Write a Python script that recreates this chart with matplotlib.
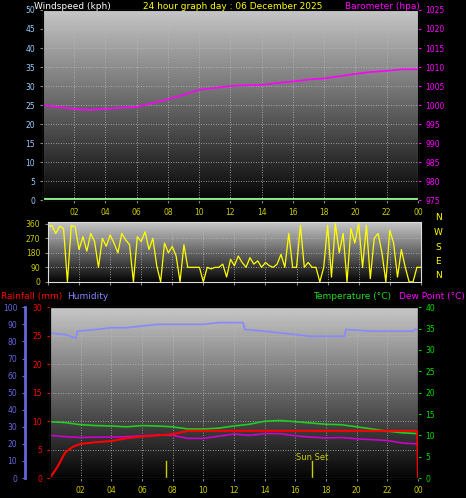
import matplotlib
matplotlib.use("Agg")
import matplotlib.pyplot as plt
import numpy as np

# ---- data ----
hours = list(range(25))
pressure = [1000, 999.5, 999, 998.7, 999, 999.3, 999.5, 1000.5, 1001.5, 1002.7, 1004, 1004.5,
            1005, 1005.2, 1005.3, 1005.8, 1006.2, 1006.7, 1007, 1007.6, 1008.2, 1008.7, 1009, 1009.4, 1009.4]

wind_t = [i * 0.25 for i in range(97)]
wind_dir = [340, 350, 300, 345, 330, 0, 350, 340, 200, 280, 190, 300, 250, 90, 270, 220,
            290, 240, 180, 300, 260, 230, 0, 280, 250, 310, 200, 270, 100, 0, 240, 180,
            220, 160, 0, 230, 90, 90, 90, 90, 0, 90, 80, 90, 90, 110, 30, 140, 100, 160,
            120, 90, 150, 110, 130, 90, 120, 100, 90, 110, 170, 90, 300, 90, 90, 350, 90, 120,
            90, 90, 0, 90, 350, 30, 360, 180, 300, 0, 330, 240, 360, 90, 350, 20, 270, 300,
            180, 0, 320, 240, 30, 200, 90, 0, 0, 90, 90]

hum_t = [0, 1, 1.7, 1.8, 3, 4, 5, 6, 7, 8, 9, 10, 11, 12, 12.6, 12.7, 14, 15, 16, 17, 18, 19, 19.2, 19.3, 21, 22, 23, 23.7, 23.8, 24]
humidity = [85, 84, 82, 86, 87, 88, 88, 89, 90, 90, 90, 90, 91, 91, 91, 87, 86, 85, 84, 83, 83, 83, 83, 87, 86, 86, 86, 86, 87, 87]

temperature = [13.2, 13, 12.5, 12.3, 12.2, 12, 12.3, 12.2, 12, 11.5, 11.5, 11.7, 12.2, 12.6, 13.3,
               13.5, 13.2, 12.9, 12.6, 12.5, 12, 11.5, 11, 10.6, 10.4]
dewpoint = [10, 9.7, 9.5, 9.6, 9.6, 9.7, 9.9, 10.1, 10, 9.3, 9.3, 9.8, 10.3, 10, 10.4,
            10.4, 9.9, 9.6, 9.4, 9.5, 9.2, 9, 8.8, 8.2, 8]

rain_t = [0, 0.5, 1, 1.5, 2, 3, 4, 5, 6, 7, 8, 9, 12, 23.95, 24]
rainfall = [0, 2, 4.5, 5.5, 6, 6.3, 6.5, 7, 7.3, 7.5, 7.7, 8.3, 8.3, 8.3, 0]

sun_times = [7.6, 17.1]
hour_ticks = list(range(2, 25, 2))
hour_labels = ["%02d" % (h % 24) for h in hour_ticks]

YEL = "#cccc00"
fig = plt.figure(figsize=(4.66, 4.98), dpi=100, facecolor="black")

grad = np.linspace(0.78, 0.02, 256).reshape(-1, 1)


def panel(rect):
    ax = fig.add_axes(rect)
    ax.set_facecolor("black")
    ax.imshow(grad, cmap="gray", vmin=0, vmax=1, aspect="auto",
              extent=[0, 1, 0, 1], transform=ax.transAxes, zorder=0)
    ax.set_xlim(0, 24)
    ax.set_xticks(range(0, 25, 2))
    ax.grid(True, color="#bbbbbb", ls=(0, (1, 2)), lw=0.6)
    for s in ax.spines.values():
        s.set_color("#dddddd")
    ax.tick_params(labelsize=5.5, length=2, colors="#888888")
    return ax


# --- top: wind speed / barometer ---
ax1 = panel([0.092, 0.598, 0.805, 0.382])
ax1.set_ylim(0, 50)
ax1.set_yticks(range(0, 51, 5))
ax1.tick_params(axis="y", labelcolor="#99ccff")
ax1.set_xticks(hour_ticks)
ax1.set_xticklabels(hour_labels, color=YEL)
ax1.axhline(0.3, color="#88ee88", lw=1.5)
ax1b = ax1.twinx()
ax1b.set_ylim(975, 1025)
ax1b.set_yticks(range(975, 1026, 5))
ax1b.tick_params(labelsize=5.5, length=2, colors="magenta")
ax1b.plot(hours, pressure, color="magenta", lw=1.2)
fig.text(0.072, 0.996, "Windspeed (kph)", color="white", fontsize=6.5, va="top")
fig.text(0.5, 0.996, "24 hour graph day : 06 December 2025", color="yellow", fontsize=6.5, va="top", ha="center")
fig.text(0.9, 0.996, "Barometer (hpa)", color="magenta", fontsize=6.5, va="top", ha="right")

# --- middle: wind direction ---
ax2 = panel([0.103, 0.434, 0.800, 0.120])
ax2.set_ylim(0, 370)
ax2.set_yticks([0, 90, 180, 270, 360])
ax2.tick_params(axis="y", labelcolor=YEL)
ax2.set_xticklabels([])
ax2.plot(wind_t, wind_dir, color="yellow", lw=0.9)
for i, c in enumerate("NWSEN"):
    fig.text(0.94, 1 - (218 + i * 14.5) / 498, c, color="yellow", fontsize=6.5, va="center", ha="center")

# --- bottom: rain / humidity / temperature ---
ax3 = panel([0.107, 0.040, 0.790, 0.343])
ax3.set_ylim(0, 30)
ax3.set_yticks(range(0, 31, 5))
ax3.tick_params(axis="y", labelcolor="red", colors="red")
ax3.set_xticks(hour_ticks)
ax3.set_xticklabels(hour_labels, color=YEL)
for st in sun_times:
    ax3.plot([st, st], [0, 3], color="#cccc00", lw=1)
ax3.text(sun_times[1], 3.2, "Sun Set", color="#cccc00", fontsize=6, ha="center")

axh = ax3.twinx()
axh.spines["left"].set_position(("outward", 18))
axh.spines["left"].set_color("#6666dd")
axh.spines["left"].set_linewidth(2)
axh.yaxis.set_label_position("left")
axh.yaxis.tick_left()
axh.set_ylim(0, 100)
axh.set_yticks(range(0, 101, 10))
axh.tick_params(labelsize=5.5, length=2, colors="#6666dd")
axh.plot(hum_t, humidity, color="#8888ff", lw=1.2)

axt = ax3.twinx()
axt.set_ylim(0, 40)
axt.set_yticks(range(0, 41, 5))
axt.tick_params(labelsize=5.5, length=2, colors="#00dd00")
axt.plot(hours, temperature, color="#22cc22", lw=1.2)
axt.plot(hours, dewpoint, color="#cc00cc", lw=1.2)

# rain drawn on top of everything, in the rain scale
axr = ax3.twinx()
axr.set_ylim(0, 30)
axr.set_yticks([])
axr.plot(rain_t, rainfall, color="red", lw=1.5)

fig.text(0.002, 0.405, "Rainfall (mm)", color="red", fontsize=6.5, va="center")
fig.text(0.145, 0.405, "Humidity", color="#8888ff", fontsize=6.5, va="center")
fig.text(0.672, 0.405, "Temperature (°C)", color="#22dd22", fontsize=6.5, va="center")
fig.text(0.998, 0.405, "Dew Point (°C)", color="magenta", fontsize=6.5, va="center", ha="right")

fig.savefig("out.png", dpi=100, facecolor="black")
